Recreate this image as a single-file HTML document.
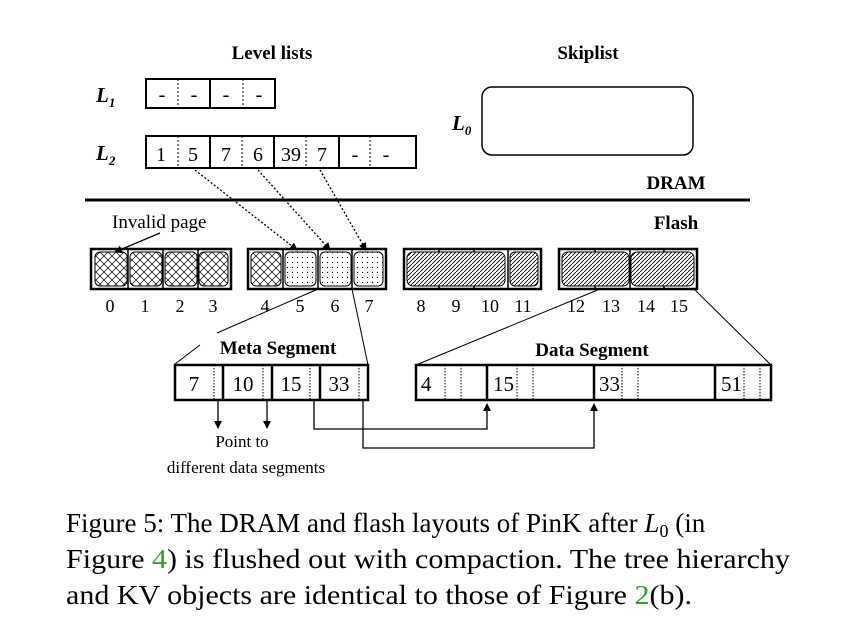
<!DOCTYPE html>
<html><head><meta charset="utf-8"><style>body{margin:0;background:#fff}svg{display:block}</style></head><body>
<svg width="842" height="634" viewBox="0 0 842 634" xmlns="http://www.w3.org/2000/svg" font-family="Liberation Serif, serif">
<defs>
<pattern id="x" width="8" height="8" patternUnits="userSpaceOnUse"><path d="M0 0L8 8M8 0L0 8" stroke="#000" stroke-width="0.7"/></pattern>
<pattern id="d" width="5" height="5" patternUnits="userSpaceOnUse"><circle cx="2.5" cy="2.5" r="0.6" fill="#000"/></pattern>
<pattern id="h" width="4" height="4" patternUnits="userSpaceOnUse"><path d="M-1 5L5 -1" stroke="#000" stroke-width="0.8"/></pattern>
<marker id="a" markerWidth="8" markerHeight="8" refX="7" refY="4" orient="auto" markerUnits="userSpaceOnUse"><path d="M0 0L8 4L0 8z" fill="#000"/></marker>
</defs>
<g font-weight="bold" font-size="19" text-anchor="middle">
<text x="272" y="59">Level lists</text><text x="588" y="59">Skiplist</text>
<text x="676" y="189">DRAM</text><text x="676" y="229">Flash</text>
<text x="278" y="354">Meta Segment</text><text x="592" y="356">Data Segment</text>
</g>
<g font-weight="bold" font-style="italic" font-size="21">
<text x="96" y="102">L<tspan font-size="13" dy="5">1</tspan></text>
<text x="96" y="160">L<tspan font-size="13" dy="5">2</tspan></text>
<text x="452" y="130">L<tspan font-size="13" dy="5">0</tspan></text>
</g>
<g fill="none" stroke="#000">
<rect x="146" y="79" width="129" height="29" stroke-width="2"/>
<line x1="210" y1="79" x2="210" y2="108" stroke-width="2"/>
<line x1="178" y1="79" x2="178" y2="108" stroke-dasharray="2,2"/>
<line x1="243" y1="79" x2="243" y2="108" stroke-dasharray="2,2"/>
<rect x="146" y="136" width="270" height="32" stroke-width="2"/>
<line x1="210" y1="136" x2="210" y2="168" stroke-width="2"/>
<line x1="274" y1="136" x2="274" y2="168" stroke-width="2"/>
<line x1="339" y1="136" x2="339" y2="168" stroke-width="2"/>
<line x1="178" y1="136" x2="178" y2="168" stroke-dasharray="2,2"/>
<line x1="242" y1="136" x2="242" y2="168" stroke-dasharray="2,2"/>
<line x1="306" y1="136" x2="306" y2="168" stroke-dasharray="2,2"/>
<line x1="370" y1="136" x2="370" y2="168" stroke-dasharray="2,2"/>
<rect x="482" y="87" width="211" height="68" rx="10" stroke-width="1.5"/>
<line x1="85" y1="200" x2="750" y2="200" stroke-width="3"/>
</g>
<g font-size="20" text-anchor="middle">
<text x="162" y="101">-</text><text x="194" y="101">-</text><text x="226" y="101">-</text><text x="259" y="101">-</text>
<text x="161" y="161">1</text><text x="193" y="161">5</text><text x="226" y="161">7</text><text x="258" y="161">6</text><text x="291" y="161">39</text><text x="322" y="161">7</text><text x="355" y="161">-</text><text x="386" y="161">-</text>
</g>
<text x="112" y="228" font-size="19">Invalid page</text>
<line x1="160" y1="233" x2="115" y2="252" stroke="#000" stroke-width="1.3" marker-end="url(#a)"/>
<g stroke="#000" stroke-width="1.3" stroke-dasharray="2,2" fill="none">
<line x1="195" y1="170" x2="297" y2="250" marker-end="url(#a)"/>
<line x1="258" y1="170" x2="330" y2="250" marker-end="url(#a)"/>
<line x1="320" y1="170" x2="366" y2="250" marker-end="url(#a)"/>
</g>
<g stroke="#000">
<rect x="91" y="249" width="140" height="40" fill="none" stroke-width="2.5"/>
<rect x="248" y="249" width="138" height="40" fill="none" stroke-width="2.5"/>
<rect x="404" y="249" width="137" height="40" fill="none" stroke-width="2.5"/>
<rect x="559" y="249" width="138" height="40" fill="none" stroke-width="2.5"/>
<g stroke-width="1">
<rect x="95" y="252" width="32" height="34" rx="5" fill="url(#x)"/>
<rect x="130" y="252" width="32" height="34" rx="5" fill="url(#x)"/>
<rect x="165" y="252" width="32" height="34" rx="5" fill="url(#x)"/>
<rect x="199" y="252" width="29" height="34" rx="5" fill="url(#x)"/>
<rect x="251" y="252" width="30" height="34" rx="5" fill="url(#x)"/>
<rect x="285" y="252" width="31" height="34" rx="5" fill="url(#d)"/>
<rect x="320" y="252" width="31" height="34" rx="5" fill="url(#d)"/>
<rect x="354" y="252" width="29" height="34" rx="5" fill="url(#d)"/>
<rect x="407" y="252" width="98" height="34" rx="6" fill="url(#h)"/>
<rect x="510" y="252" width="28" height="34" rx="5" fill="url(#h)"/>
<rect x="562" y="252" width="67" height="34" rx="6" fill="url(#h)"/>
<rect x="631" y="252" width="63" height="34" rx="6" fill="url(#h)"/>
</g>
<g stroke-width="1.5">
<line x1="128" y1="249" x2="128" y2="289"/><line x1="163" y1="249" x2="163" y2="289"/><line x1="198" y1="249" x2="198" y2="289"/>
<line x1="283" y1="249" x2="283" y2="289"/><line x1="318" y1="249" x2="318" y2="289"/><line x1="352" y1="249" x2="352" y2="289"/>
<line x1="508" y1="249" x2="508" y2="289"/><line x1="630" y1="249" x2="630" y2="289"/>
<line x1="439" y1="249" x2="439" y2="252"/><line x1="474" y1="249" x2="474" y2="252"/><line x1="439" y1="286" x2="439" y2="289"/><line x1="474" y1="286" x2="474" y2="289"/>
<line x1="595" y1="249" x2="595" y2="252"/><line x1="664" y1="249" x2="664" y2="252"/><line x1="595" y1="286" x2="595" y2="289"/><line x1="664" y1="286" x2="664" y2="289"/>
</g>
</g>
<g font-size="18" text-anchor="middle">
<text x="110" y="312">0</text><text x="145" y="312">1</text><text x="180" y="312">2</text><text x="213" y="312">3</text>
<text x="265" y="312">4</text><text x="300" y="312">5</text><text x="335" y="312">6</text><text x="369" y="312">7</text>
<text x="421" y="312">8</text><text x="456" y="312">9</text><text x="490" y="312">10</text><text x="523" y="312">11</text>
<text x="576" y="312">12</text><text x="611" y="312">13</text><text x="646" y="312">14</text><text x="679" y="312">15</text>
</g>
<g stroke="#000" stroke-width="1" fill="none">
<line x1="318" y1="289" x2="217" y2="333"/>
<path d="M200 345 L175 364"/>
<line x1="352" y1="289" x2="368" y2="365"/>
<line x1="600" y1="289" x2="416" y2="365"/>
<line x1="694" y1="289" x2="771" y2="365"/>
</g>
<g fill="none" stroke="#000">
<rect x="175" y="365" width="193" height="35" stroke-width="2.5"/>
<line x1="223" y1="365" x2="223" y2="400" stroke-width="2.5"/>
<line x1="272" y1="365" x2="272" y2="400" stroke-width="2.5"/>
<line x1="320" y1="365" x2="320" y2="400" stroke-width="2.5"/>
<g stroke-dasharray="1.5,1.5"><line x1="214" y1="365" x2="214" y2="400"/><line x1="263" y1="365" x2="263" y2="400"/><line x1="310" y1="365" x2="310" y2="400"/><line x1="359" y1="365" x2="359" y2="400"/></g>
<rect x="416" y="365" width="355" height="35" stroke-width="2.5"/>
<line x1="487" y1="365" x2="487" y2="400" stroke-width="2.5"/>
<line x1="594" y1="365" x2="594" y2="400" stroke-width="2.5"/>
<line x1="715" y1="365" x2="715" y2="400" stroke-width="2.5"/>
<g stroke-dasharray="1.5,1.5"><line x1="445" y1="365" x2="445" y2="400"/><line x1="461" y1="365" x2="461" y2="400"/><line x1="517" y1="365" x2="517" y2="400"/><line x1="533" y1="365" x2="533" y2="400"/><line x1="622" y1="365" x2="622" y2="400"/><line x1="638" y1="365" x2="638" y2="400"/><line x1="744" y1="365" x2="744" y2="400"/><line x1="760" y1="365" x2="760" y2="400"/></g>
</g>
<g font-size="21" text-anchor="middle">
<text x="194" y="391">7</text><text x="243" y="391">10</text><text x="291" y="391">15</text><text x="339" y="391">33</text>
</g>
<g font-size="21">
<text x="421" y="391">4</text><text x="493" y="391">15</text><text x="599" y="391">33</text><text x="721" y="391">51</text>
</g>
<g stroke="#000" stroke-width="1.3" fill="none">
<line x1="218" y1="400" x2="218" y2="428" marker-end="url(#a)"/>
<line x1="267" y1="400" x2="267" y2="428" marker-end="url(#a)"/>
<path d="M314 400 V429 H487 V404" marker-end="url(#a)"/>
<path d="M363 400 V448 H594 V404" marker-end="url(#a)"/>
</g>
<g font-size="17" text-anchor="middle">
<text x="242" y="447">Point to</text><text x="246" y="473">different data segments</text>
</g>
<g font-size="27">
<text x="66" y="532">Figure 5: The DRAM and flash layouts of PinK after <tspan font-style="italic">L</tspan><tspan font-size="18" dy="5">0</tspan><tspan dy="-5"> (in</tspan></text>
<text x="66" y="568" textLength="724" lengthAdjust="spacingAndGlyphs">Figure <tspan fill="#2ca02c">4</tspan>) is flushed out with compaction. The tree hierarchy</text>
<text x="66" y="604" textLength="626" lengthAdjust="spacingAndGlyphs">and KV objects are identical to those of Figure <tspan fill="#2ca02c">2</tspan>(b).</text>
</g>
</svg>
</body></html>
